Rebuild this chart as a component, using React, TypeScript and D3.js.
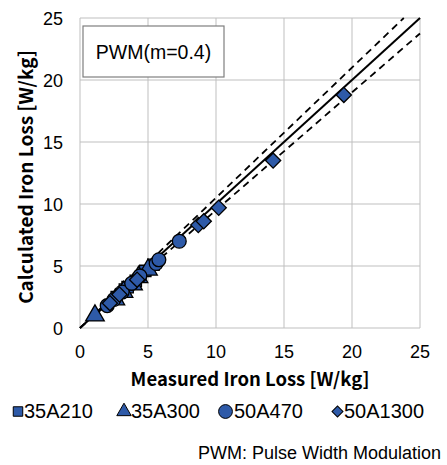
import React from "react";
import * as d3 from "d3";

const xTicks = [0, 5, 10, 15, 20, 25];
const yTicks = [0, 5, 10, 15, 20, 25];

const s35A210: [number, number][] = [
  [2.7, 2.5], [3.3, 3.1], [3.5, 3.3], [4.1, 3.8], [4.8, 4.6], [5.4, 5.1],
];
const s35A300: [number, number][] = [
  [1.1, 1.0], [2.6, 2.3], [3.2, 2.9], [3.9, 3.5], [4.3, 4.1], [5.0, 4.7],
];
const s50A470: [number, number][] = [
  [2.0, 1.8], [2.5, 2.3], [3.1, 2.9], [3.8, 3.6], [4.4, 4.2], [5.6, 5.2], [5.8, 5.5], [7.3, 7.0],
];
const s50A1300: [number, number][] = [
  [2.2, 2.0], [2.9, 2.7], [4.2, 3.9], [8.7, 8.3], [9.1, 8.6], [10.2, 9.7], [14.2, 13.5], [19.4, 18.8],
];

const seriesNames = ["35A210", "35A300", "50A470", "50A1300"];
const seriesData = [s35A210, s35A300, s50A470, s50A1300];
const seriesShapes = [d3.symbolSquare, d3.symbolTriangle, d3.symbolCircle, d3.symbolSquare];
const seriesRotate = [0, 0, 0, 45];
const seriesSizes = [130, 150, 150, 115];
const legendSizes = [90, 90, 150, 60];

const tolerance = 0.05;

export default function App() {
  const W = 447, H = 465;
  const x = d3.scaleLinear().domain([0, 25]).range([80, 420]);
  const y = d3.scaleLinear().domain([0, 25]).range([328, 18]);
  const fill = "#2e5aa8";
  const tickFont = "'Liberation Sans', Arial, sans-serif";
  const titleFont = "'Noto Sans CJK JP', 'Liberation Sans', sans-serif";

  const upperEnd = 25 / (1 + tolerance);
  const legendX = [13, 118, 218, 332];
  const legendW = [10, 12, 15, 11];

  return (
    <svg width={W} height={H} style={{ position: "absolute", left: 0, top: 0 }}>
      <rect x={0} y={0} width={W} height={H} fill="#fff" />
      {xTicks.map(t => (
        <line key={"gx" + t} x1={x(t)} x2={x(t)} y1={y(0)} y2={y(25)} stroke="#bfbfbf" strokeWidth={1} />
      ))}
      {yTicks.map(t => (
        <line key={"gy" + t} x1={x(0)} x2={x(25)} y1={y(t)} y2={y(t)} stroke="#bfbfbf" strokeWidth={1} />
      ))}
      {/* reference lines */}
      <line x1={x(0)} y1={y(0)} x2={x(25)} y2={y(25)} stroke="#000" strokeWidth={2} />
      <line x1={x(0)} y1={y(0)} x2={x(upperEnd)} y2={y(25)} stroke="#000" strokeWidth={1.8} strokeDasharray="7,5" />
      <line x1={x(0)} y1={y(0)} x2={x(25)} y2={y(25 * (1 - tolerance))} stroke="#000" strokeWidth={1.8} strokeDasharray="7,5" />
      {/* annotation box */}
      <rect x={83} y={26} width={141} height={51} fill="#fff" stroke="#7f7f7f" strokeWidth={1.2} />
      <text x={153.5} y={59} textAnchor="middle" fontFamily={tickFont} fontSize={19.5}>PWM(m=0.4)</text>
      {/* points */}
      {seriesData.map((data, si) =>
        data.map((d, i) => (
          <path
            key={si + "-" + i}
            d={d3.symbol().type(seriesShapes[si]).size(seriesSizes[si])()!}
            transform={`translate(${x(d[0])},${y(d[1])}) rotate(${seriesRotate[si]})`}
            fill={fill}
            stroke="#000"
            strokeWidth={1.3}
          />
        ))
      )}
      {/* tick labels */}
      {yTicks.map(t => (
        <text key={"ty" + t} x={63} y={y(t) + 6.5} textAnchor="end" fontFamily={tickFont} fontSize={18}>{t}</text>
      ))}
      {xTicks.map(t => (
        <text key={"tx" + t} x={x(t)} y={358} textAnchor="middle" fontFamily={tickFont} fontSize={18}>{t}</text>
      ))}
      <text x={250} y={386} textAnchor="middle" fontFamily={titleFont} fontWeight="bold" fontSize={18.5}>Measured Iron Loss [W/kg]</text>
      <text transform={`translate(33,${y(12.5) + 4}) rotate(-90)`} textAnchor="middle" fontFamily={titleFont} fontWeight="bold" fontSize={19}>Calculated Iron Loss [W/kg]</text>
      {/* legend */}
      {seriesNames.map((n, i) => (
        <g key={n}>
          <path
            d={d3.symbol().type(seriesShapes[i]).size(legendSizes[i])()!}
            transform={`translate(${legendX[i] + legendW[i] / 2},${411.5}) rotate(${seriesRotate[i]})`}
            fill={fill}
            stroke="#000"
            strokeWidth={1}
          />
          <text x={legendX[i] + legendW[i] + 1} y={418} fontFamily={tickFont} fontSize={20}>{n}</text>
        </g>
      ))}
      <text x={441} y={459} textAnchor="end" fontFamily={tickFont} fontSize={18}>PWM: Pulse Width Modulation</text>
    </svg>
  );
}
